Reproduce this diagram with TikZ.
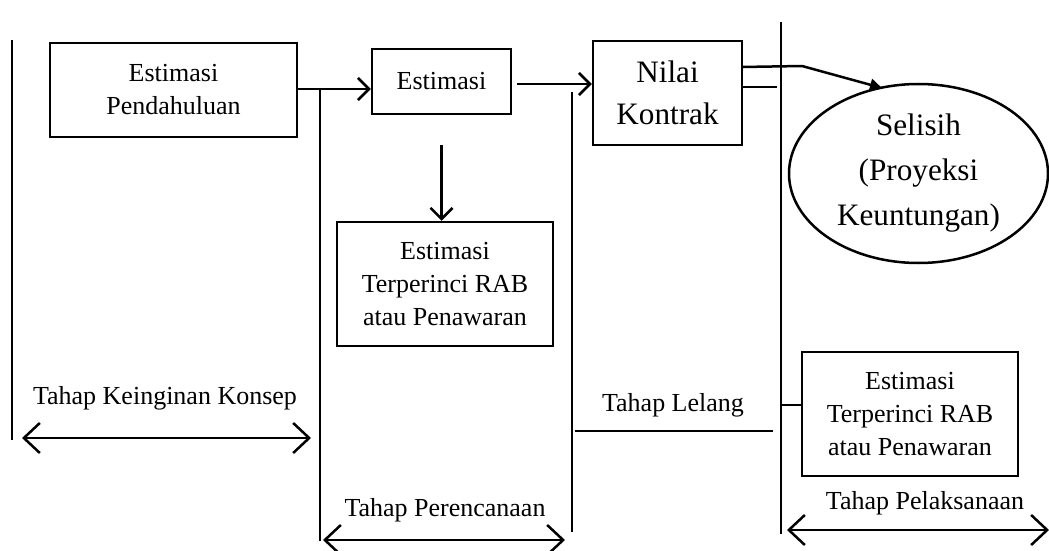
\documentclass[tikz,border=0pt]{standalone}
\usepackage{fontspec}
\setmainfont{Liberation Serif}
\usetikzlibrary{arrows.meta,shapes.geometric}
\begin{document}
\begin{tikzpicture}[x=0.5pt,y=-0.5pt,line width=1.25pt,
  box/.style={draw, rectangle, inner sep=0pt, align=center, font=\fontsize{13}{16.5}\selectfont},
  bigbox/.style={box, font=\fontsize{15.6}{21}\selectfont},
  oval/.style={draw, ellipse, inner sep=0pt, align=center, font=\fontsize{15.6}{22.5}\selectfont},
  lbl/.style={inner sep=0pt, font=\fontsize{13}{16.5}\selectfont},
  arr/.style={-{Straight Barb[length=5.5pt,width=11pt]}},
  dbl/.style={{Straight Barb[length=8pt,width=15pt]}-{Straight Barb[length=8pt,width=15pt]}},
  tri/.style={-{Triangle[length=6pt,width=6pt]}}]
\useasboundingbox (0,0) rectangle (1049,551);
% boxes
\node[box, minimum width=123.5pt, minimum height=47pt] (pend) at (173.5,90) {Estimasi\\Pendahuluan};
\node[box, minimum width=69.5pt, minimum height=32.5pt] (est) at (441.5,81.5) {Estimasi};
\node[bigbox, minimum width=74.5pt, minimum height=52pt] (nilai) at (667.5,93) {Nilai\\Kontrak};
\node[box, minimum width=108pt, minimum height=62pt] (rabA) at (445,284) {Estimasi\\Terperinci RAB\\atau Penawaran};
\node[box, minimum width=108pt, minimum height=62pt] (rabB) at (910,414) {Estimasi\\Terperinci RAB\\atau Penawaran};
\node[oval, minimum width=129.5pt, minimum height=89.5pt] (sel) at (918.5,173.5) {Selisih\\(Proyeksi\\Keuntungan)};
% labels
\node[lbl] (lk) at (165,398) {Tahap Keinginan Konsep};
\node[lbl] (lp) at (445,510) {Tahap Perencanaan};
\node[lbl] (ll) at (673,405) {Tahap Lelang};
\node[lbl] (lx) at (925,503) {Tahap Pelaksanaan};
% coordinates
\coordinate (v0a) at (12,40);   \coordinate (v0b) at (12,440);
\coordinate (v1a) at (320,90);  \coordinate (v1b) at (320,541);
\coordinate (v2a) at (572,92);  \coordinate (v2b) at (572,532);
\coordinate (v3a) at (781,22);  \coordinate (v3b) at (781,534);
\coordinate (nu1) at (742,67);  \coordinate (nu2) at (802,66);
\coordinate (seltip) at (882,88);
\coordinate (nl1) at (742,87);  \coordinate (nl2) at (777,87);
\coordinate (la) at (575,431);  \coordinate (lb) at (773,431);
\coordinate (tk1) at (781,405);
\coordinate (ka) at (22,438);   \coordinate (kb) at (311,438);
\coordinate (pa) at (323,540);  \coordinate (pb) at (565,540);
\coordinate (xa) at (787,530);  \coordinate (xb) at (1049,530);
% vertical phase lines
\draw (v0a) -- (v0b);
\draw (v1a) -- (v1b);
\draw (v2a) -- (v2b);
\draw (v3a) -- (v3b);
% connectors
\draw[arr] (pend.east |- 0,89) -- (est.west |- 0,89);
\draw[arr] (517,84) -- (nilai.west |- 0,84);
\draw[arr] (441.5,145) -- (rabA.north -| 441.5,0);
\draw (nu1) -- (nu2);
\draw[tri] (nu2) -- (seltip);
\draw (nl1) -- (nl2);
\draw (tk1) -- (rabB.west |- tk1);
\draw (la) -- (lb);
% phase arrows
\draw[dbl] (ka) -- (kb);
\draw[dbl] (pa) -- (pb);
\draw[dbl] (xa) -- (xb);
\end{tikzpicture}
\end{document}
